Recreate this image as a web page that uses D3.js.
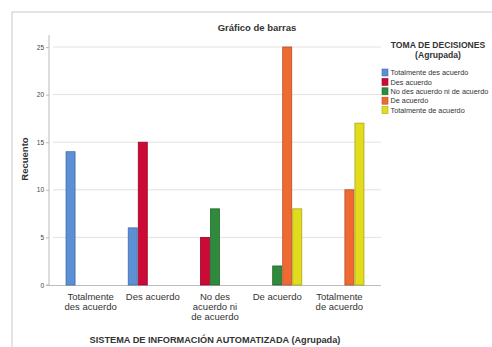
<!DOCTYPE html>
<html><head><meta charset="utf-8">
<script src="https://cdn.jsdelivr.net/npm/d3@7"></script>
<style>body{margin:0;background:#fff}svg{display:block}text{font-family:"Liberation Sans",Arial,sans-serif}</style>
</head><body>
<script>
const categories = [["Totalmente","des acuerdo"],["Des acuerdo"],["No des","acuerdo ni","de acuerdo"],["De acuerdo"],["Totalmente","de acuerdo"]];
const series = ["Totalmente des acuerdo","Des acuerdo","No des acuerdo ni de acuerdo","De acuerdo","Totalmente de acuerdo"];
const colors = ["#5b8fd6","#cc0a35","#2f8a3b","#ee6a32","#e2dc1c"];
// values[seriesIndex][categoryIndex]
const values = [
  [14, 6, 0, 0, 0],
  [0, 15, 5, 0, 0],
  [0, 0, 8, 2, 0],
  [0, 0, 0, 25, 10],
  [0, 0, 0, 8, 17]
];
const yTicks = [0,5,10,15,20,25];

const W=492,H=347;
const svg=d3.select("body").append("svg").attr("width",W).attr("height",H);
// frame
svg.append("path").attr("d","M12,347V12H492").attr("fill","none").attr("stroke","#c8c8c8").attr("stroke-width",1);

const x0=d3.scaleBand().domain(d3.range(categories.length)).range([49,381]).paddingInner(0.1935).paddingOuter(0.266);
const x1=d3.scaleBand().domain(d3.range(series.length)).range([0,x0.bandwidth()]);
const y=d3.scaleLinear().domain([0,25]).range([285,47]);

// gridlines
svg.append("g").selectAll("line").data(yTicks.filter(d=>d>0)).join("line")
  .attr("x1",53).attr("x2",381).attr("y1",d=>y(d)).attr("y2",d=>y(d))
  .attr("stroke","#e2e2e2").attr("stroke-width",1);

// y axis
const yAxis=d3.axisLeft(y).tickValues(yTicks).tickSize(3).tickFormat(d3.format("d"));
const ga=svg.append("g").attr("transform","translate(49,0)").call(yAxis);
ga.select(".domain").attr("stroke","#bbb").attr("d","M-3,285H0V35");
ga.selectAll(".tick line").attr("stroke","#bbb");
ga.selectAll(".tick text").attr("font-size",6.5).attr("fill","#444").attr("x",-5);

// x axis line
svg.append("line").attr("x1",49).attr("x2",381).attr("y1",285.5).attr("y2",285.5).attr("stroke","#bbb");

// bars
series.forEach((s,si)=>{
  svg.append("g").selectAll("rect").data(values[si].map((v,ci)=>({v,ci}))).join("rect")
    .filter(d=>d.v>0)
    .attr("x",d=>x0(d.ci)+x1(si)+0.5)
    .attr("width",x1.bandwidth()-1)
    .attr("y",d=>y(d.v))
    .attr("height",d=>y(0)-y(d.v))
    .attr("fill",colors[si])
    .attr("stroke",d3.color(colors[si]).darker(0.8))
    .attr("stroke-width",0.8);
});

// x labels
categories.forEach((lines,ci)=>{
  const cx=x0(ci)+x0.bandwidth()/2;
  const t=svg.append("text").attr("x",cx).attr("y",300).attr("text-anchor","middle").attr("font-size",9.5).attr("fill","#333");
  lines.forEach((l,i)=>t.append("tspan").attr("x",cx).attr("dy",i?10:0).text(l));
});

// titles
svg.append("text").attr("x",257).attr("y",31).attr("text-anchor","middle").attr("font-size",9.5).attr("font-weight","bold").attr("fill","#333").text("Gráfico de barras");
svg.append("text").attr("transform","translate(28,159) rotate(-90)").attr("text-anchor","middle").attr("font-size",9.5).attr("font-weight","bold").attr("fill","#333").text("Recuento");
svg.append("text").attr("x",215).attr("y",343).attr("text-anchor","middle").attr("font-size",9.2).attr("font-weight","bold").attr("fill","#333").text("SISTEMA DE INFORMACIÓN AUTOMATIZADA (Agrupada)");

// legend
svg.append("text").attr("x",438).attr("y",48).attr("text-anchor","middle").attr("font-size",8.6).attr("font-weight","bold").attr("fill","#333").text("TOMA DE DECISIONES");
svg.append("text").attr("x",438).attr("y",58).attr("text-anchor","middle").attr("font-size",8.6).attr("font-weight","bold").attr("fill","#333").text("(Agrupada)");
const lg=svg.append("g").selectAll("g").data(series).join("g").attr("transform",(d,i)=>`translate(382,${72.5+i*9.4})`);
lg.append("rect").attr("y",-3.5).attr("width",6).attr("height",7).attr("fill",(d,i)=>colors[i]).attr("stroke",(d,i)=>d3.color(colors[i]).darker(0.8)).attr("stroke-width",0.6);
lg.append("text").attr("x",8.5).attr("y",2.6).attr("font-size",7.3).attr("fill","#333").text(d=>d);
</script>
</body></html>
